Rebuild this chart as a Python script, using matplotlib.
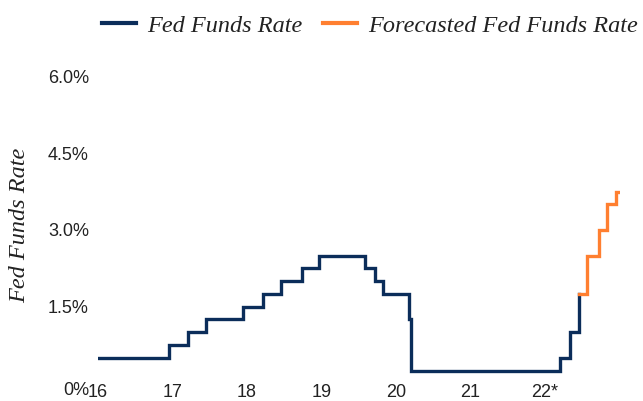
import numpy as np
import matplotlib
matplotlib.use("Agg")
import matplotlib.pyplot as plt
import matplotlib.transforms as mtransforms
from matplotlib.lines import Line2D

# ---- data (upper bound of target range, %) ----
fed_dates = ["2016-01-01", "2016-12-15", "2017-03-16", "2017-06-15", "2017-12-14",
             "2018-03-22", "2018-06-14", "2018-09-27", "2018-12-20", "2019-08-01",
             "2019-09-19", "2019-10-31", "2020-03-03", "2020-03-16", "2022-03-17",
             "2022-05-05", "2022-06-16"]
fed_rates = [0.50, 0.75, 1.00, 1.25, 1.50, 1.75, 2.00, 2.25, 2.50, 2.25,
             2.00, 1.75, 1.25, 0.25, 0.50, 1.00, 1.75]

fc_dates = ["2022-06-16", "2022-07-28", "2022-09-22", "2022-11-03", "2022-12-15", "2022-12-31"]
fc_rates = [1.75, 2.50, 3.00, 3.50, 3.75, 3.75]

year_ticks = ["2016-01-01", "2017-01-01", "2018-01-01", "2019-01-01",
              "2020-01-01", "2021-01-01", "2022-01-01"]
year_labels = ["16", "17", "18", "19", "20", "21", "22*"]
y_ticks = [0, 1.5, 3.0, 4.5, 6.0]
y_labels = ["0%", "1.5%", "3.0%", "4.5%", "6.0%"]

NAVY = "#0b2d5a"
ORANGE = "#ff7f30"
TXT = "#222222"

fig = plt.figure(figsize=(6.43, 4.01), dpi=100)
W, H = 643, 401
x0, x1 = 98, 619.5
y0, y1 = 383.3, 76.7
ax = fig.add_axes([x0 / W, (H - y0) / H, (x1 - x0) / W, (y0 - y1) / H])

fd = np.array(fed_dates, dtype="datetime64[D]")
fcd = np.array(fc_dates, dtype="datetime64[D]")
ax.plot(fd, fed_rates, drawstyle="steps-post", color=NAVY, lw=2.4, solid_joinstyle="miter")
ax.plot(fcd, fc_rates, drawstyle="steps-post", color=ORANGE, lw=2.4, solid_joinstyle="miter")

ax.set_xlim(np.datetime64("2016-01-01"), np.datetime64("2023-01-01"))
ax.set_ylim(0, 6)
for s in ax.spines.values():
    s.set_visible(False)

sans = ["Liberation Sans", "DejaVu Sans"]
ax.set_xticks(np.array(year_ticks, dtype="datetime64[D]"))
ax.set_xticklabels(year_labels, fontsize=13, color=TXT, family=sans)
ax.set_yticks(y_ticks)
ax.set_yticklabels(y_labels, fontsize=13, color=TXT, family=sans)
ax.tick_params(axis="both", length=0)
ax.tick_params(axis="x", pad=0.5)
ax.tick_params(axis="y", pad=6.5)

# the 0% label sits a little lower in the reference
lab0 = ax.get_yticklabels()[0]
lab0.set_transform(lab0.get_transform() + mtransforms.ScaledTranslation(0, -5.5 / 100, fig.dpi_scale_trans))

serif = ["Liberation Serif", "DejaVu Serif"]
fig.text(20 / W, 1 - 225 / H, "Fed Funds Rate", rotation=90, ha="center", va="center",
         fontsize=17.5, style="italic", family=serif, color=TXT)

handles = [Line2D([], [], color=NAVY, lw=3),
           Line2D([], [], color=ORANGE, lw=3)]
fig.legend(handles, ["Fed Funds Rate", "Forecasted Fed Funds Rate"], ncol=2,
           loc="center", bbox_to_anchor=(370 / W, 1 - 25.7 / H), frameon=False,
           prop={"family": serif, "style": "italic", "size": 17.5},
           labelcolor=TXT, handlelength=1.4, handletextpad=0.45, columnspacing=0.85,
           borderpad=0, borderaxespad=0)

fig.savefig("out.png", dpi=100)
